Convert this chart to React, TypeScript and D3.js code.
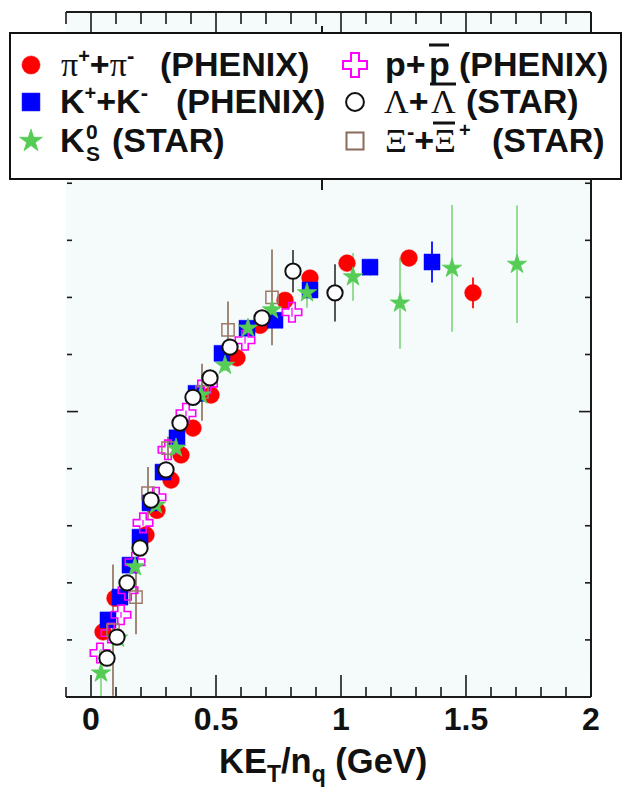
import React from "react";
import * as d3 from "d3";

const W = 623;
const H = 788;

// pi+ + pi- (PHENIX)
const piX = [0.048, 0.096, 0.22, 0.264, 0.32, 0.36, 0.408, 0.48, 0.584, 0.676, 0.776, 0.876, 1.024, 1.272, 1.528];
const piY = [0.0114, 0.0173, 0.0284, 0.0327, 0.038, 0.0424, 0.0471, 0.0529, 0.0594, 0.0651, 0.0695, 0.0734, 0.076, 0.0769, 0.0708];
const piE = [0.0005, 0.0005, 0.0005, 0.0005, 0.0005, 0.0005, 0.0005, 0.0005, 0.0005, 0.0005, 0.0005, 0.0006, 0.001, 0.001, 0.0027];

// K+ + K- (PHENIX)
const kX = [0.068, 0.116, 0.156, 0.196, 0.236, 0.288, 0.344, 0.42, 0.524, 0.624, 0.736, 0.876, 1.116, 1.364];
const kY = [0.0135, 0.0175, 0.0231, 0.028, 0.034, 0.0394, 0.0454, 0.0532, 0.0602, 0.0646, 0.066, 0.0713, 0.0753, 0.0762];
const kE = [0.0005, 0.0005, 0.0005, 0.0005, 0.0005, 0.0005, 0.0005, 0.0005, 0.0005, 0.0005, 0.0006, 0.0008, 0.0014, 0.0036];

// p + pbar (PHENIX)
const pX = [0.036, 0.08, 0.12, 0.148, 0.176, 0.208, 0.26, 0.308, 0.38, 0.466, 0.616, 0.804];
const pY = [0.0077, 0.0112, 0.0144, 0.0187, 0.0236, 0.0305, 0.035, 0.0433, 0.0497, 0.0549, 0.0625, 0.0674];
const pE = [0.0005, 0.0005, 0.0005, 0.0005, 0.0005, 0.0005, 0.0005, 0.0005, 0.0005, 0.0005, 0.0006, 0.0008];

// Lambda + anti-Lambda (STAR)
const lamX = [0.064, 0.104, 0.144, 0.196, 0.24, 0.30, 0.356, 0.408, 0.476, 0.556, 0.684, 0.808, 0.976];
const lamY = [0.0068, 0.0105, 0.02, 0.0261, 0.0345, 0.0398, 0.048, 0.0525, 0.0559, 0.0613, 0.0664, 0.0746, 0.0708];
const lamE = [0.0005, 0.0005, 0.0005, 0.0005, 0.0005, 0.0005, 0.0005, 0.0005, 0.0006, 0.0008, 0.001, 0.0037, 0.005];

// K0S (STAR)
const ksX = [0.04, 0.108, 0.176, 0.26, 0.34, 0.44, 0.536, 0.628, 0.724, 0.864, 1.048, 1.236, 1.444, 1.704];
const ksY = [0.0042, 0.0103, 0.0228, 0.0336, 0.0436, 0.0529, 0.0581, 0.0646, 0.0678, 0.0708, 0.0736, 0.069, 0.0751, 0.0758];
const ksE = [0.0042, 0.001, 0.001, 0.001, 0.001, 0.001, 0.001, 0.0014, 0.0015, 0.0026, 0.0042, 0.008, 0.0111, 0.0103];

// Xi + anti-Xi (STAR)
const xiX = [0.088, 0.18, 0.228, 0.308, 0.444, 0.548, 0.724];
const xiY = [0.0117, 0.0175, 0.0357, 0.0436, 0.0534, 0.0643, 0.07];
const xiE = [0.0115, 0.0065, 0.0046, 0.002, 0.005, 0.005, 0.0084];

const xTickLabels = ["0", "0.5", "1", "1.5", "2"];
const xMajor = [0, 0.5, 1, 1.5, 2];

const FONT = "'Liberation Sans', Arial, Helvetica, sans-serif";
const SERIF = "'Liberation Serif', 'Times New Roman', serif";

const x = d3.scaleLinear().domain([-0.1, 2]).range([66, 591]);
const y = d3.scaleLinear().domain([0, 0.12]).range([697, 12]);

type Series = {
  xs: number[];
  ys: number[];
  es: number[];
  type: d3.SymbolType;
  size: number;
  fill: string;
  stroke: string;
  sw: number;
  bar: string;
};

const series: Series[] = [
  { xs: piX, ys: piY, es: piE, type: d3.symbolCircle, size: 220, fill: "#ff0000", stroke: "#ff0000", sw: 0.5, bar: "#ff2020" },
  { xs: kX, ys: kY, es: kE, type: d3.symbolSquare, size: 256, fill: "#0000ff", stroke: "#0000ff", sw: 0.5, bar: "#2020ff" },
  { xs: pX, ys: pY, es: pE, type: d3.symbolCross, size: 210, fill: "none", stroke: "#ff00ff", sw: 1.6, bar: "#ff60ff" },
  { xs: xiX, ys: xiY, es: xiE, type: d3.symbolSquare, size: 150, fill: "none", stroke: "#a07868", sw: 1.5, bar: "#a08878" },
  { xs: ksX, ys: ksY, es: ksE, type: d3.symbolStar, size: 115, fill: "#55cc55", stroke: "#55cc55", sw: 0.8, bar: "#95dc95" },
  { xs: lamX, ys: lamY, es: lamE, type: d3.symbolCircle, size: 185, fill: "#ffffff", stroke: "#111111", sw: 2, bar: "#555555" },
];

function Marker({ type, size, fill, stroke, sw, cx, cy }: any) {
  const path = d3.symbol().type(type).size(size)() as string;
  return <path d={path} transform={`translate(${cx},${cy})`} fill={fill} stroke={stroke} strokeWidth={sw} />;
}

export default function App() {
  const xMinor = d3.range(-1, 21).map((i) => i / 10);
  const yMinor = d3.range(1, 12).map((i) => i / 100);
  const axis = "#1a1a1a";
  const lbl = { fontFamily: FONT, fontWeight: 700, fontSize: 34 } as const;

  return (
    <svg width={W} height={H} style={{ position: "absolute", left: 0, top: 0, background: "#ffffff" }}>
      <rect x={x(-0.1)} y={y(0.12)} width={x(2) - x(-0.1)} height={y(0) - y(0.12)} fill="#f5fbfb" />

      {/* error bars */}
      {series.map((s, si) =>
        s.xs.map((v, i) => (
          <line key={`e${si}-${i}`} x1={x(v)} x2={x(v)} y1={y(s.ys[i] - s.es[i])} y2={y(s.ys[i] + s.es[i])} stroke={s.bar} strokeWidth={2} />
        ))
      )}
      {/* markers */}
      {series.map((s, si) =>
        s.xs.map((v, i) => (
          <Marker key={`m${si}-${i}`} type={s.type} size={s.size} fill={s.fill} stroke={s.stroke} sw={s.sw} cx={x(v)} cy={y(s.ys[i])} />
        ))
      )}

      {/* frame: bottom, top, right */}
      <line x1={x(-0.1)} x2={x(2)} y1={y(0)} y2={y(0)} stroke={axis} strokeWidth={2} />
      <line x1={x(-0.1)} x2={x(2)} y1={y(0.12)} y2={y(0.12)} stroke={axis} strokeWidth={2} />
      <line x1={x(2)} x2={x(2)} y1={y(0.12)} y2={y(0)} stroke={axis} strokeWidth={2} />
      {xMinor.map((t) => {
        const major = xMajor.some((m) => Math.abs(m - t) < 1e-6);
        const len = major ? 22 : 10;
        return (
          <g key={`xt${t}`}>
            <line x1={x(t)} x2={x(t)} y1={y(0)} y2={y(0) - len} stroke={axis} strokeWidth={1.6} />
            <line x1={x(t)} x2={x(t)} y1={y(0.12)} y2={y(0.12) + (major ? 20 : 12)} stroke={axis} strokeWidth={1.6} />
          </g>
        );
      })}
      {yMinor.map((t) => {
        const major = Math.abs(t - 0.05) < 1e-6 || Math.abs(t - 0.1) < 1e-6;
        return (
          <g key={`yt${t}`}>
            <line x1={x(-0.1) + 1} x2={x(-0.1) + (major ? 12 : 6)} y1={y(t)} y2={y(t)} stroke={axis} strokeWidth={1.6} />
            <line x1={x(2)} x2={x(2) - (major ? 12 : 6)} y1={y(t)} y2={y(t)} stroke={axis} strokeWidth={1.6} />
          </g>
        );
      })}

      {/* x tick labels */}
      {xMajor.map((t, i) => (
        <text key={`xl${t}`} x={x(t)} y={730} textAnchor="middle" {...lbl} fontSize={32} fill="#111">
          {xTickLabels[i]}
        </text>
      ))}
      <text x={219} y={773} {...lbl} fontSize={34.5} fill="#111">
        KE<tspan fontSize={23} dy={9}>T</tspan>
        <tspan dy={-9}>/n</tspan>
        <tspan fontSize={23} dy={9}>q</tspan>
        <tspan dy={-9}> (GeV)</tspan>
      </text>

      {/* legend */}
      <line x1={322} x2={322} y1={26} y2={33} stroke={axis} strokeWidth={2} />
      <line x1={322} x2={322} y1={179} y2={190} stroke={axis} strokeWidth={2} />
      <rect x={10} y={33} width={611} height={146} fill="#ffffff" stroke="#111" strokeWidth={2} />

      <Marker type={d3.symbolCircle} size={260} fill="#ff0000" stroke="#ff0000" sw={0.5} cx={31} cy={65} />
      <Marker type={d3.symbolSquare} size={320} fill="#0000ff" stroke="#0000ff" sw={0.5} cx={31} cy={102} />
      <Marker type={d3.symbolStar} size={160} fill="#55cc55" stroke="#55cc55" sw={0.8} cx={31} cy={141} />
      <Marker type={d3.symbolCross} size={320} fill="none" stroke="#ff00ff" sw={2} cx={355} cy={65} />
      <Marker type={d3.symbolCircle} size={250} fill="#ffffff" stroke="#111" sw={2} cx={355} cy={102} />
      <Marker type={d3.symbolSquare} size={290} fill="none" stroke="#8a6a5a" sw={2} cx={355} cy={141} />

      <g {...lbl} fill="#111">
        {/* row 1 col 1 */}
        <text x={61} y={76}>
          <tspan fontFamily={SERIF} fontWeight={400}>π</tspan>
          <tspan fontSize={20} dy={-13}>+</tspan>
          <tspan dy={13}>+</tspan>
          <tspan fontFamily={SERIF} fontWeight={400}>π</tspan>
          <tspan fontSize={22} dy={-13}>-</tspan>
        </text>
        <text x={160} y={76}>(PHENIX)</text>
        {/* row 2 col 1 */}
        <text x={60} y={113}>
          K<tspan fontSize={20} dy={-13}>+</tspan>
          <tspan dy={13}>+</tspan>K<tspan fontSize={22} dy={-13}>-</tspan>
        </text>
        <text x={176} y={113}>(PHENIX)</text>
        {/* row 3 col 1 */}
        <text x={60} y={152}>K</text>
        <text x={86} y={139} fontSize={21}>0</text>
        <text x={86} y={161} fontSize={21}>S</text>
        <text x={112} y={152}>(STAR)</text>
        {/* row 1 col 2 */}
        <text x={385} y={76}>p+</text>
        <text x={429} y={76}>p</text>
        <line x1={429} x2={449} y1={45} y2={45} stroke="#111" strokeWidth={3} />
        <text x={459} y={76}>(PHENIX)</text>
        {/* row 2 col 2 */}
        <text x={384} y={113}>
          <tspan fontFamily={SERIF} fontWeight={400}>Λ</tspan>+
        </text>
        <text x={431} y={113} fontFamily={SERIF} fontWeight={400}>Λ</text>
        <line x1={430} x2={456} y1={84} y2={84} stroke="#111" strokeWidth={3} />
        <text x={466} y={113}>(STAR)</text>
        {/* row 3 col 2 */}
        <text x={385} y={152}>
          <tspan fontFamily={SERIF} fontWeight={400}>Ξ</tspan>
          <tspan fontSize={22} dy={-13}>-</tspan>
          <tspan dy={13}>+</tspan>
        </text>
        <text x={434} y={152} fontFamily={SERIF} fontWeight={400}>Ξ</text>
        <line x1={433} x2={455} y1={123} y2={123} stroke="#111" strokeWidth={3} />
        <text x={459} y={137} fontSize={20}>+</text>
        <text x={492} y={152}>(STAR)</text>
      </g>
    </svg>
  );
}
